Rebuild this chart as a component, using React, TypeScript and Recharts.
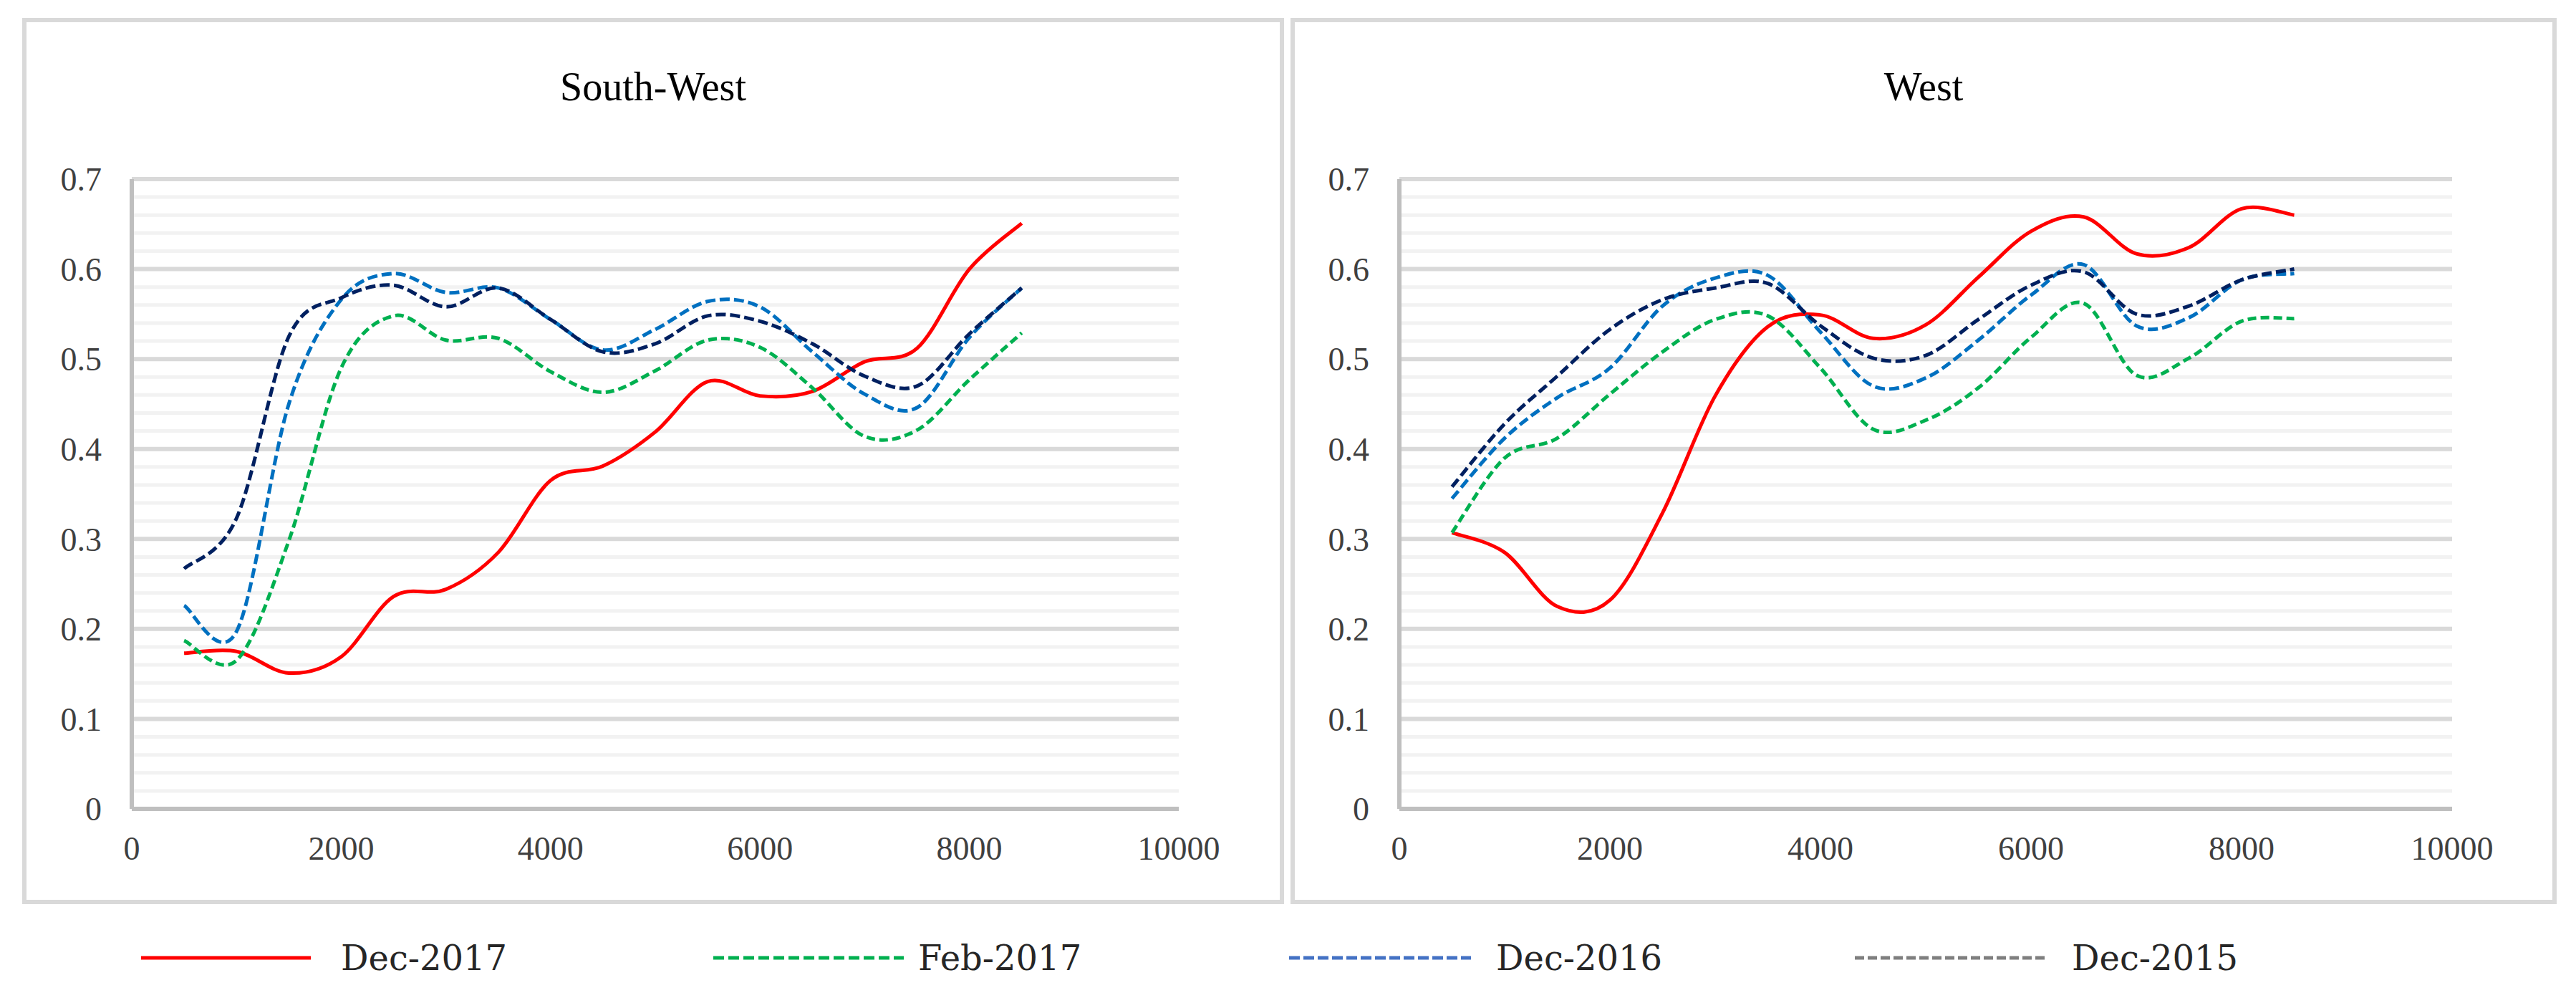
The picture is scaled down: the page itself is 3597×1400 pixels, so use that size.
import React from "react"
import { LineChart, Line, XAxis, YAxis, CartesianGrid } from "recharts"

// distance (x) at which every series was sampled
const distance = [500, 1000, 1500, 2000, 2500, 3000, 3500, 4000, 4500, 5000, 5500, 6000, 6500, 7000, 7500, 8000, 8500]

const xTicks = [0, 2000, 4000, 6000, 8000, 10000]
const yTicks = [0, 0.1, 0.2, 0.3, 0.4, 0.5, 0.6, 0.7]
const minorTicks = Array.from({ length: 36 }, (_, i) => Math.round(i * 2) / 100)

// South-West
const swDec2017 = [0.173, 0.175, 0.151, 0.169, 0.236, 0.244, 0.285, 0.365, 0.381, 0.419, 0.475, 0.459, 0.464, 0.497, 0.512, 0.600, 0.651]
const swFeb2017 = [0.187, 0.165, 0.298, 0.490, 0.548, 0.521, 0.523, 0.486, 0.463, 0.487, 0.521, 0.513, 0.468, 0.414, 0.421, 0.477, 0.529]
const swDec2016 = [0.226, 0.197, 0.450, 0.566, 0.595, 0.574, 0.579, 0.544, 0.510, 0.533, 0.564, 0.558, 0.508, 0.461, 0.446, 0.524, 0.579]
const swDec2015 = [0.267, 0.323, 0.525, 0.568, 0.582, 0.558, 0.579, 0.544, 0.508, 0.517, 0.548, 0.542, 0.517, 0.481, 0.470, 0.528, 0.579]

// West
const wDec2017 = [0.307, 0.285, 0.225, 0.232, 0.329, 0.459, 0.536, 0.549, 0.523, 0.538, 0.591, 0.642, 0.658, 0.617, 0.624, 0.667, 0.660]
const wFeb2017 = [0.307, 0.390, 0.412, 0.461, 0.508, 0.544, 0.548, 0.490, 0.422, 0.432, 0.468, 0.524, 0.562, 0.482, 0.501, 0.542, 0.545]
const wDec2016 = [0.345, 0.412, 0.457, 0.490, 0.559, 0.590, 0.593, 0.530, 0.470, 0.479, 0.521, 0.571, 0.605, 0.537, 0.546, 0.588, 0.595]
const wDec2015 = [0.358, 0.428, 0.481, 0.533, 0.566, 0.579, 0.584, 0.537, 0.501, 0.504, 0.544, 0.582, 0.597, 0.550, 0.559, 0.588, 0.600]

const seriesNames = ["Dec-2017", "Feb-2017", "Dec-2016", "Dec-2015"]

const swRows = distance.map((x, i) => ({ x, d17: swDec2017[i], f17: swFeb2017[i], d16: swDec2016[i], d15: swDec2015[i] }))
const wRows = distance.map((x, i) => ({ x, d17: wDec2017[i], f17: wFeb2017[i], d16: wDec2016[i], d15: wDec2015[i] }))

// Excel-like smoothed line (Catmull-Rom through the points)
function excelSmooth(context: any) {
  let pts: number[][] = []
  return {
    areaStart() {},
    areaEnd() {},
    lineStart() { pts = [] },
    point(x: number, y: number) { pts.push([+x, +y]) },
    lineEnd() {
      const n = pts.length
      if (!n) return
      context.moveTo(pts[0][0], pts[0][1])
      for (let i = 0; i < n - 1; i++) {
        const p0 = pts[Math.max(i - 1, 0)]
        const p1 = pts[i]
        const p2 = pts[i + 1]
        const p3 = pts[Math.min(i + 2, n - 1)]
        context.bezierCurveTo(
          p1[0] + (p2[0] - p0[0]) / 6, p1[1] + (p2[1] - p0[1]) / 6,
          p2[0] - (p3[0] - p1[0]) / 6, p2[1] - (p3[1] - p1[1]) / 6,
          p2[0], p2[1],
        )
      }
    },
  }
}

const tickFont = { fill: "#404040", fontSize: 46, fontFamily: '"Liberation Serif", "Times New Roman", serif' }

const styles = [
  { key: "d17", color: "#ff0000", dash: undefined },
  { key: "f17", color: "#00b050", dash: "12 6" },
  { key: "d16", color: "#0070c0", dash: "14 6" },
  { key: "d15", color: "#002060", dash: "14 6" },
]

function Panel({ title, left, width, marginLeft, marginRight, rows }: any) {
  return (
    <>
      <div style={{
        position: "absolute", left, top: 25, width, height: 1237,
        border: "6px solid #d9d9d9", boxSizing: "border-box",
      }} />
      <div style={{
        position: "absolute", left, top: 93, width, textAlign: "center",
        fontFamily: '"Liberation Serif", "Times New Roman", serif', fontSize: 56, lineHeight: "56px", color: "#000",
      }}>
        {title}
      </div>
      <div style={{ position: "absolute", left, top: 25 }}>
        <LineChart width={width} height={1237} data={rows}
          margin={{ top: 225, right: marginRight, bottom: 73, left: marginLeft }}>
          <CartesianGrid vertical={false} horizontalValues={minorTicks} stroke="#f2f2f2" strokeWidth={5} />
          <CartesianGrid vertical={false} stroke="#d9d9d9" strokeWidth={6} />
          <XAxis
            type="number" dataKey="x" domain={[0, 10000]} ticks={xTicks}
            height={60} tick={tickFont} tickLine={false} tickSize={0} tickMargin={38}
            axisLine={{ stroke: "#bfbfbf", strokeWidth: 6 }}
          />
          <YAxis
            type="number" domain={[0, 0.7]} ticks={yTicks} width={80}
            tick={tickFont} tickLine={false} tickSize={0} tickMargin={42}
            axisLine={{ stroke: "#bfbfbf", strokeWidth: 6 }}
          />
          {styles.map((s, i) => (
            <Line
              key={s.key}
              name={seriesNames[i]}
              dataKey={s.key}
              type={excelSmooth as any}
              stroke={s.color}
              strokeWidth={5}
              strokeDasharray={s.dash}
              dot={false}
              activeDot={false}
              isAnimationActive={false}
            />
          ))}
        </LineChart>
      </div>
    </>
  )
}

const legendItems = [
  { x1: 197, x2: 434, tx: 476, color: "#ff0000", dash: undefined },
  { x1: 996, x2: 1262, tx: 1282, color: "#00b050", dash: "15 6" },
  { x1: 1800, x2: 2054, tx: 2089, color: "#4472c4", dash: "15 5" },
  { x1: 2590, x2: 2859, tx: 2893, color: "#7f7f7f", dash: "13 5" },
]

export default function App() {
  return (
    <div style={{ position: "absolute", left: 0, top: 0, width: 3597, height: 1400, background: "#fff", overflow: "hidden" }}>
      <Panel title="South-West" left={31} width={1762} marginLeft={73} marginRight={147} rows={swRows} />
      <Panel title="West" left={1802} width={1768} marginLeft={72} marginRight={146} rows={wRows} />
      <svg style={{ position: "absolute", left: 0, top: 1290 }} width={3597} height={100}>
        {legendItems.map((it, i) => (
          <g key={i}>
            <line x1={it.x1} x2={it.x2} y1={47} y2={47} stroke={it.color} strokeWidth={5} strokeDasharray={it.dash} />
            <text x={it.tx} y={64} fontFamily='"DejaVu Serif", serif' fontSize={48} fill="#262626">
              {seriesNames[i]}
            </text>
          </g>
        ))}
      </svg>
    </div>
  )
}
